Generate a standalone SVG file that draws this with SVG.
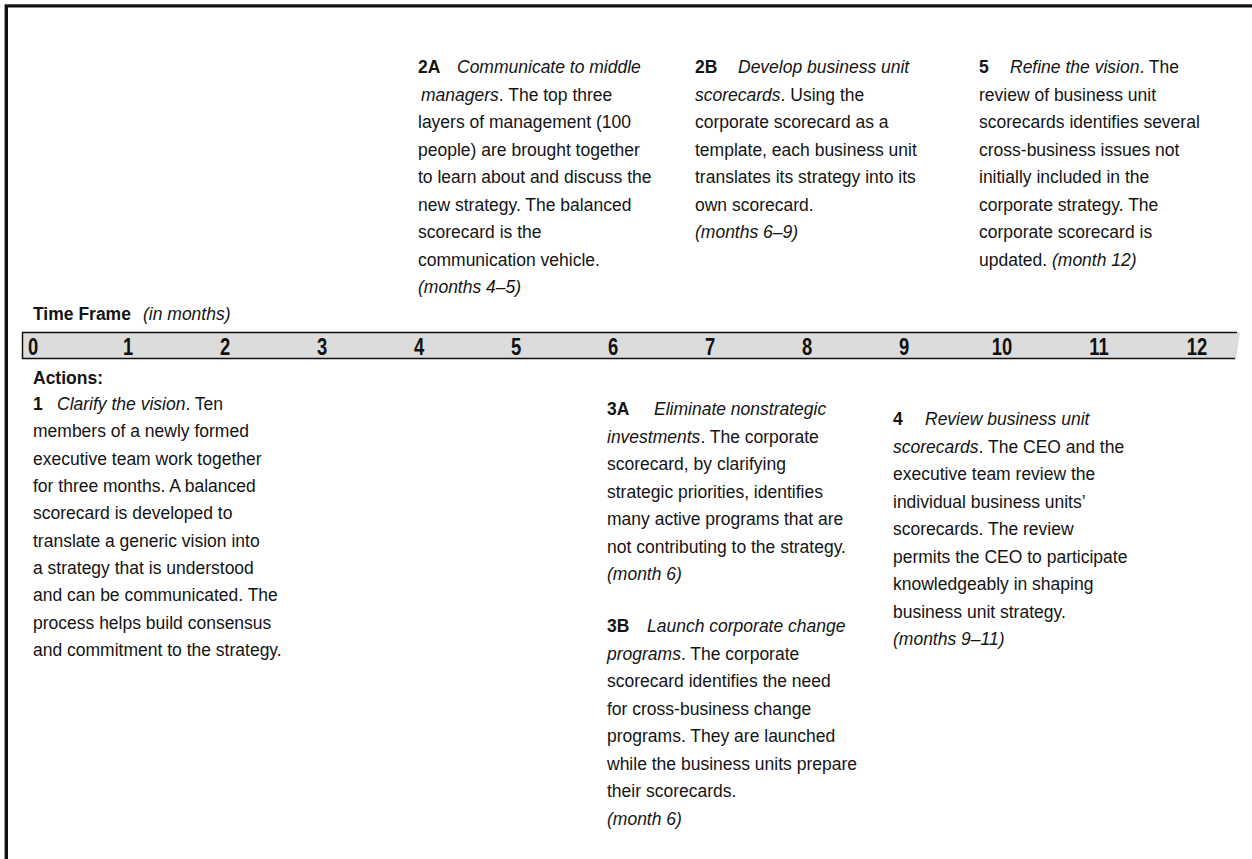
<svg xmlns="http://www.w3.org/2000/svg" width="1252" height="859" viewBox="0 0 1252 859">
  <style>
    text { font-family: "Liberation Sans", Arial, sans-serif; font-size: 17.5px; fill: #141414; }
    .b { font-weight: bold; }
    .i { font-style: italic; }
    .num { font-weight: bold; font-size: 23px; fill: #111; text-anchor: middle; }
  </style>

  <!-- outer frame: top and left rules only -->
  <g id="frame">
    <path d="M4.5,859 V4.5 H1252" fill="none" stroke="#9a9a9a" stroke-width="1"/>
    <path d="M6.5,859 V6 H1252" fill="none" stroke="#111" stroke-width="3"/>
  </g>

  <!-- time frame label and month scale -->
  <g id="timeframe">
    <text x="33" y="320"><tspan class="b">Time Frame</tspan><tspan class="i" x="143">(in months)</tspan></text>
  </g>
  <g id="scale">
    <polygon points="22,332 1240,332 1236,359 22,359" fill="#dcdcdc"/>
    <line x1="22" y1="332.5" x2="1237" y2="332.5" stroke="#111" stroke-width="1.5"/>
    <line x1="22" y1="358.5" x2="1235" y2="358.5" stroke="#111" stroke-width="1.5"/>
    <line x1="22.5" y1="332" x2="22.5" y2="359" stroke="#111" stroke-width="1.5"/>
    <!-- month ticks: bold condensed digits -->
    <text class="num" transform="translate(33 354.5) scale(0.8 1)">0</text>
    <text class="num" transform="translate(128 354.5) scale(0.8 1)">1</text>
    <text class="num" transform="translate(225 354.5) scale(0.8 1)">2</text>
    <text class="num" transform="translate(322 354.5) scale(0.8 1)">3</text>
    <text class="num" transform="translate(419 354.5) scale(0.8 1)">4</text>
    <text class="num" transform="translate(516 354.5) scale(0.8 1)">5</text>
    <text class="num" transform="translate(613 354.5) scale(0.8 1)">6</text>
    <text class="num" transform="translate(710 354.5) scale(0.8 1)">7</text>
    <text class="num" transform="translate(807 354.5) scale(0.8 1)">8</text>
    <text class="num" transform="translate(904 354.5) scale(0.8 1)">9</text>
    <text class="num" transform="translate(1002 354.5) scale(0.8 1)">10</text>
    <text class="num" transform="translate(1099 354.5) scale(0.8 1)">11</text>
    <text class="num" transform="translate(1197 354.5) scale(0.8 1)">12</text>
  </g>

  <!-- step 2A -->
  <g id="step-2A">
    <text x="418" y="73"><tspan class="b">2A</tspan><tspan class="i" x="457">Communicate to middle</tspan></text>
    <text x="421" y="100.5"><tspan class="i">managers</tspan>. The top three</text>
    <text x="418" y="128">layers of management (100</text>
    <text x="418" y="155.5">people) are brought together</text>
    <text x="418" y="183">to learn about and discuss the</text>
    <text x="418" y="210.5">new strategy. The balanced</text>
    <text x="418" y="238">scorecard is the</text>
    <text x="418" y="265.5">communication vehicle.</text>
    <text x="418" y="293" class="i">(months 4–5)</text>
  </g>

  <!-- step 2B -->
  <g id="step-2B">
    <text x="695" y="73"><tspan class="b">2B</tspan><tspan class="i" x="738">Develop business unit</tspan></text>
    <text x="695" y="100.5"><tspan class="i">scorecards</tspan>. Using the</text>
    <text x="695" y="128">corporate scorecard as a</text>
    <text x="695" y="155.5">template, each business unit</text>
    <text x="695" y="183">translates its strategy into its</text>
    <text x="695" y="210.5">own scorecard.</text>
    <text x="695" y="238" class="i">(months 6–9)</text>
  </g>

  <!-- step 5 -->
  <g id="step-5">
    <text x="979" y="73"><tspan class="b">5</tspan><tspan class="i" x="1010">Refine the vision</tspan>. The</text>
    <text x="979" y="100.5">review of business unit</text>
    <text x="979" y="128">scorecards identifies several</text>
    <text x="979" y="155.5">cross-business issues not</text>
    <text x="979" y="183">initially included in the</text>
    <text x="979" y="210.5">corporate strategy. The</text>
    <text x="979" y="238">corporate scorecard is</text>
    <text x="979" y="265.5">updated. <tspan class="i">(month 12)</tspan></text>
  </g>

  <!-- step 1 -->
  <g id="step-1">
    <text x="33" y="384" class="b">Actions:</text>
    <text x="33" y="410"><tspan class="b">1</tspan><tspan class="i" x="57">Clarify the vision</tspan>. Ten</text>
    <text x="33" y="437.3">members of a newly formed</text>
    <text x="33" y="464.6">executive team work together</text>
    <text x="33" y="492">for three months. A balanced</text>
    <text x="33" y="519.3">scorecard is developed to</text>
    <text x="33" y="546.7">translate a generic vision into</text>
    <text x="33" y="574">a strategy that is understood</text>
    <text x="33" y="601.3">and can be communicated. The</text>
    <text x="33" y="628.6">process helps build consensus</text>
    <text x="33" y="656">and commitment to the strategy.</text>
  </g>

  <!-- step 3A -->
  <g id="step-3A">
    <text x="607" y="415"><tspan class="b">3A</tspan><tspan class="i" x="654">Eliminate nonstrategic</tspan></text>
    <text x="607" y="442.5"><tspan class="i">investments</tspan>. The corporate</text>
    <text x="607" y="470">scorecard, by clarifying</text>
    <text x="607" y="497.5">strategic priorities, identifies</text>
    <text x="607" y="525">many active programs that are</text>
    <text x="607" y="552.5">not contributing to the strategy.</text>
    <text x="607" y="580" class="i">(month 6)</text>
  </g>

  <!-- step 3B -->
  <g id="step-3B">
    <text x="607" y="632"><tspan class="b">3B</tspan><tspan class="i" x="647">Launch corporate change</tspan></text>
    <text x="607" y="659.5"><tspan class="i">programs</tspan>. The corporate</text>
    <text x="607" y="687">scorecard identifies the need</text>
    <text x="607" y="714.5">for cross-business change</text>
    <text x="607" y="742">programs. They are launched</text>
    <text x="607" y="769.5">while the business units prepare</text>
    <text x="607" y="797">their scorecards.</text>
    <text x="607" y="824.5" class="i">(month 6)</text>
  </g>

  <!-- step 4 -->
  <g id="step-4">
    <text x="893" y="425"><tspan class="b">4</tspan><tspan class="i" x="925">Review business unit</tspan></text>
    <text x="893" y="452.5"><tspan class="i">scorecards</tspan>. The CEO and the</text>
    <text x="893" y="480">executive team review the</text>
    <text x="893" y="507.5">individual business units’</text>
    <text x="893" y="535">scorecards. The review</text>
    <text x="893" y="562.5">permits the CEO to participate</text>
    <text x="893" y="590">knowledgeably in shaping</text>
    <text x="893" y="617.5">business unit strategy.</text>
    <text x="893" y="645" class="i">(months 9–11)</text>
  </g>

  <!-- connectors: none drawn in this chart -->
  <g id="connectors"/>
</svg>
